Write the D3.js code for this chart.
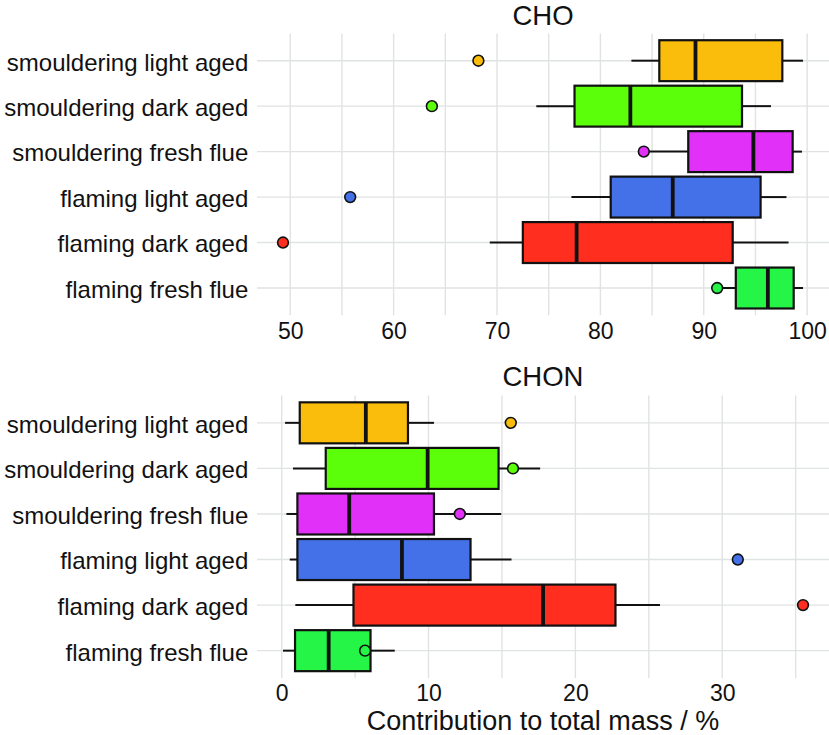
<!DOCTYPE html>
<html>
<head>
<meta charset="utf-8">
<script src="https://cdn.jsdelivr.net/npm/d3@7"></script>
<style>
  html, body { margin: 0; padding: 0; background: #fff; }
  svg { display: block; }
  text { font-family: "Liberation Sans", Arial, Helvetica, sans-serif; fill: #111; }
</style>
</head>
<body>
<svg id="chart" width="829" height="735"></svg>
<script>
// ---- data ----
const categories = [
  "smouldering light aged",
  "smouldering dark aged",
  "smouldering fresh flue",
  "flaming light aged",
  "flaming dark aged",
  "flaming fresh flue"
];
const fillColors = ["#FABD0B", "#5CFF0A", "#E130F8", "#4571E8", "#FF2E1E", "#25F547"];

// CHO panel: whisker low, Q1, median, Q3, whisker high, marked point
const choLow    = [83.0, 73.8, 84.2, 77.2, 69.3, 91.3];
const choQ1     = [85.7, 77.5, 88.5, 81.0, 72.5, 93.1];
const choMedian = [89.2, 82.9, 94.8, 87.0, 77.7, 96.2];
const choQ3     = [97.6, 93.7, 98.6, 95.5, 92.8, 98.7];
const choHigh   = [99.6, 96.5, 99.5, 98.0, 98.2, 99.6];
const choPoint  = [68.2, 63.7, 84.2, 55.8, 49.3, 91.3];
const choTicks  = [50, 60, 70, 80, 90, 100];
const choMinor  = [55, 65, 75, 85, 95];

// CHON panel
const chonLow    = [0.23, 0.77, 0.32, 0.55, 0.93, 0.09];
const chonQ1     = [1.23, 3.0, 1.07, 1.07, 4.89, 0.91];
const chonMedian = [5.73, 9.94, 4.6, 8.19, 17.8, 3.2];
const chonQ3     = [8.6, 14.77, 10.37, 12.86, 22.73, 6.05];
const chonHigh   = [10.37, 17.6, 14.95, 15.65, 25.76, 7.7];
const chonPoint  = [15.6, 15.75, 12.13, 31.06, 35.5, 5.68];
const chonTicks  = [0, 10, 20, 30];
const chonMinor  = [5, 15, 25, 35];

const xAxisTitle = "Contribution to total mass / %";

// ---- layout ----
const svg = d3.select("#chart");
const panelLeft = 257, panelRight = 829;
const gridColor = "#e0e3e3";

function buildRows(low, q1, med, q3, high, pt) {
  return categories.map((c, i) => ({
    cat: c, color: fillColors[i],
    low: low[i], q1: q1[i], med: med[i], q3: q3[i], high: high[i], pt: pt[i]
  }));
}

function drawPanel(opts) {
  const { rows, top, bottom, title, titleY, ticks, minor } = opts;
  const all = rows.flatMap(r => [r.low, r.high, r.pt]);
  const [mn, mx] = d3.extent(all);
  const pad = (mx - mn) * 0.05;
  const x = d3.scaleLinear().domain([mn - pad, mx + pad]).range([panelLeft, panelRight]);
  const y = d3.scaleBand().domain(categories).range([top, bottom])
    .paddingInner(0.1).paddingOuter(0.15).align(0.5);
  const bw = y.bandwidth();
  const cy = c => y(c) + bw / 2;

  const g = svg.append("g");

  // grid
  g.append("g").selectAll("line").data(ticks.concat(minor)).join("line")
    .attr("x1", d => x(d)).attr("x2", d => x(d))
    .attr("y1", top).attr("y2", bottom)
    .attr("stroke", gridColor).attr("stroke-width", 1.4);
  g.append("g").selectAll("line").data(categories).join("line")
    .attr("x1", panelLeft).attr("x2", panelRight)
    .attr("y1", d => cy(d)).attr("y2", d => cy(d))
    .attr("stroke", gridColor).attr("stroke-width", 1.4);

  // whiskers
  const marks = g.append("g");
  marks.append("g").selectAll("line").data(rows).join("line")
    .attr("x1", d => x(d.low)).attr("x2", d => x(d.q1))
    .attr("y1", d => cy(d.cat)).attr("y2", d => cy(d.cat))
    .attr("stroke", "#111").attr("stroke-width", 2);
  marks.append("g").selectAll("line").data(rows).join("line")
    .attr("x1", d => x(d.q3)).attr("x2", d => x(d.high))
    .attr("y1", d => cy(d.cat)).attr("y2", d => cy(d.cat))
    .attr("stroke", "#111").attr("stroke-width", 2);
  // boxes
  marks.append("g").selectAll("rect").data(rows).join("rect")
    .attr("x", d => x(d.q1)).attr("width", d => x(d.q3) - x(d.q1))
    .attr("y", d => y(d.cat)).attr("height", bw)
    .attr("fill", d => d.color).attr("stroke", "#111").attr("stroke-width", 2.2);
  // medians
  marks.append("g").selectAll("line").data(rows).join("line")
    .attr("x1", d => x(d.med)).attr("x2", d => x(d.med))
    .attr("y1", d => y(d.cat)).attr("y2", d => y(d.cat) + bw)
    .attr("stroke", "#111").attr("stroke-width", 3.8);
  // points
  marks.append("g").selectAll("circle").data(rows).join("circle")
    .attr("cx", d => x(d.pt)).attr("cy", d => cy(d.cat)).attr("r", 5.4)
    .attr("fill", d => d.color).attr("stroke", "#111").attr("stroke-width", 1.6);

  // x axis labels
  const xa = d3.axisBottom(x).tickValues(ticks).tickSize(0).tickPadding(7).tickFormat(d3.format("d"));
  const xg = g.append("g").attr("transform", `translate(0,${bottom})`).call(xa);
  xg.select(".domain").remove();
  xg.selectAll("text").attr("font-size", 23).attr("fill", "#111")
    .attr("font-family", "'Liberation Sans', Arial, sans-serif");

  // y axis labels
  const ya = d3.axisLeft(y).tickSize(0).tickPadding(8.7);
  const yg = g.append("g").attr("transform", `translate(${panelLeft},0)`).call(ya);
  yg.select(".domain").remove();
  yg.selectAll("text").attr("font-size", 24).attr("fill", "#111").attr("dy", "0.41em")
    .attr("font-family", "'Liberation Sans', Arial, sans-serif");

  // title
  g.append("text").attr("x", (panelLeft + panelRight) / 2).attr("y", titleY)
    .attr("text-anchor", "middle").attr("font-size", 27.5).text(title);
}

drawPanel({
  rows: buildRows(choLow, choQ1, choMedian, choQ3, choHigh, choPoint),
  top: 33.4, bottom: 315.3, title: "CHO", titleY: 25,
  ticks: choTicks, minor: choMinor
});
drawPanel({
  rows: buildRows(chonLow, chonQ1, chonMedian, chonQ3, chonHigh, chonPoint),
  top: 395.5, bottom: 678, title: "CHON", titleY: 386,
  ticks: chonTicks, minor: chonMinor
});

svg.append("text").attr("x", (panelLeft + panelRight) / 2).attr("y", 730)
  .attr("text-anchor", "middle").attr("font-size", 27).text(xAxisTitle);
</script>
</body>
</html>
